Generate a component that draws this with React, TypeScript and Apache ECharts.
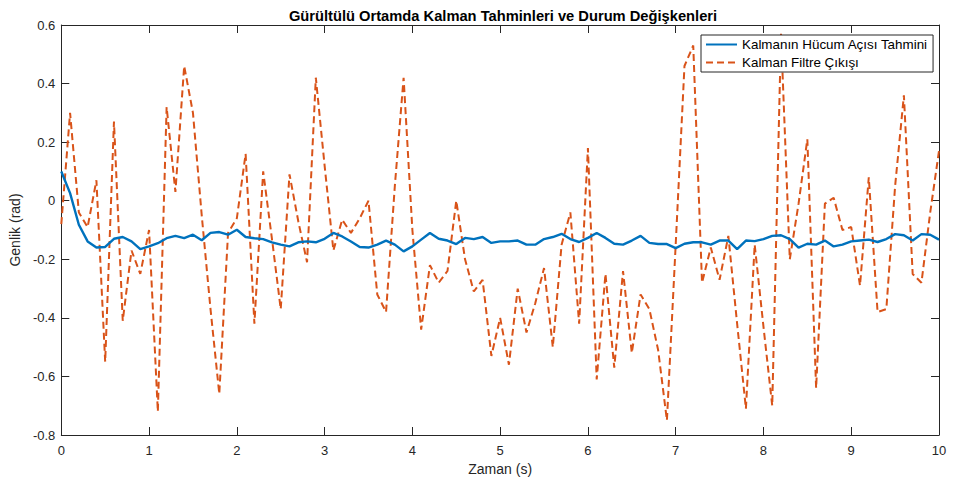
import React, { useEffect, useRef } from "react";
import * as echarts from "echarts";

// Sample step of the time axis (s)
const sampleStep = 0.1;

// Axis ranges and tick steps
const xRange = [0, 10];
const xStep = 1;
const yRange = [-0.8, 0.6];
const yStep = 0.2;

// Legend / series names
const seriesNames = ["Kalmanın Hücum Açısı Tahmini", "Kalman Filtre Çıkışı"];

// Kalman estimate of angle of attack (rad), t = 0 .. 10 s
const kalmanEstimate = [
  0.10, 0.026, -0.082, -0.139, -0.16, -0.158, -0.13, -0.124, -0.139, -0.165,
  -0.156, -0.145, -0.128, -0.12, -0.128, -0.116, -0.135, -0.11, -0.107, -0.116,
  -0.099, -0.124, -0.128, -0.131, -0.142, -0.15, -0.156, -0.142, -0.139, -0.142,
  -0.13, -0.11, -0.122, -0.139, -0.158, -0.16, -0.15, -0.136, -0.15, -0.173,
  -0.156, -0.133, -0.11, -0.13, -0.136, -0.148, -0.127, -0.131, -0.124, -0.144,
  -0.139, -0.139, -0.136, -0.15, -0.15, -0.131, -0.124, -0.113, -0.131, -0.141,
  -0.127, -0.11, -0.127, -0.147, -0.15, -0.136, -0.12, -0.144, -0.148, -0.148,
  -0.162, -0.147, -0.142, -0.142, -0.15, -0.136, -0.136, -0.165, -0.136, -0.138,
  -0.131, -0.12, -0.118, -0.131, -0.16, -0.147, -0.15, -0.136, -0.156, -0.15,
  -0.139, -0.136, -0.133, -0.141, -0.131, -0.114, -0.118, -0.136, -0.114, -0.116,
  -0.133,
];

// Kalman filter output (rad), t = 0 .. 10 s
const filterOutput = [
  -0.08, 0.30, -0.04, -0.09, 0.07, -0.55, 0.27, -0.41, -0.17, -0.25,
  -0.10, -0.72, 0.32, 0.03, 0.46, 0.30, -0.05, -0.37, -0.66, -0.11,
  -0.06, 0.16, -0.42, 0.10, -0.13, -0.37, 0.09, -0.07, -0.21, 0.42,
  0.12, -0.17, -0.065, -0.11, -0.06, 0.0, -0.32, -0.38, 0.05, 0.42,
  -0.10, -0.44, -0.22, -0.28, -0.24, 0.0, -0.20, -0.31, -0.27, -0.53,
  -0.40, -0.56, -0.30, -0.45, -0.35, -0.23, -0.50, -0.15, -0.04, -0.42,
  0.18, -0.61, -0.25, -0.57, -0.24, -0.52, -0.32, -0.37, -0.51, -0.75,
  -0.15, 0.46, 0.53, -0.28, -0.16, -0.27, -0.12, -0.42, -0.71, -0.15,
  -0.43, -0.70, 0.57, -0.20, -0.01, 0.21, -0.64, -0.01, 0.01, -0.10,
  -0.09, -0.29, 0.08, -0.38, -0.37, 0.05, 0.36, -0.25, -0.28, -0.04,
  0.17,
];

const toPairs = (vals: number[]) =>
  vals.map((v, i) => [Math.round(i * sampleStep * 10) / 10, v]);

const AXIS_COLOR = "#262626";
const FONT = "'Liberation Sans', Arial, Helvetica, sans-serif";

export default function App() {
  const ref = useRef<HTMLDivElement>(null);

  useEffect(() => {
    document.body.style.margin = "0";
    if (!ref.current) return;
    const chart = echarts.init(ref.current, undefined, { renderer: "svg" });

    const baseAxis = {
      axisLine: { show: true, onZero: false, lineStyle: { color: AXIS_COLOR, width: 1 } },
      axisTick: { show: true, inside: true, length: 8, lineStyle: { color: AXIS_COLOR, width: 1 } },
      splitLine: { show: false },
    };

    chart.setOption({
      animation: false,
      backgroundColor: "#ffffff",
      textStyle: { fontFamily: FONT },
      title: {
        text: "Gürültülü Ortamda Kalman Tahminleri ve Durum Değişkenleri",
        left: 498,
        top: 3,
        textAlign: "center",
        textStyle: { fontFamily: FONT, fontSize: 14.7, fontWeight: "bold", color: "#000" },
      },
      grid: { left: 58, right: 23, top: 25, bottom: 46, containLabel: false },
      legend: {
        orient: "vertical",
        left: 701,
        top: 35,
        padding: [3, 5, 3, 4],
        itemGap: 5,
        itemWidth: 31,
        itemHeight: 12,
        borderColor: AXIS_COLOR,
        borderWidth: 1,
        borderRadius: 0,
        backgroundColor: "#ffffff",
        itemStyle: { opacity: 0 },
        textStyle: { fontFamily: FONT, fontSize: 13.4, color: "#000" },
        data: seriesNames,
      },
      xAxis: [
        {
          ...baseAxis,
          type: "value",
          position: "bottom",
          min: xRange[0],
          max: xRange[1],
          interval: xStep,
          axisLabel: { color: AXIS_COLOR, fontFamily: FONT, fontSize: 13, margin: 9 },
          name: "Zaman (s)",
          nameLocation: "middle",
          nameGap: 26,
          nameTextStyle: { color: AXIS_COLOR, fontFamily: FONT, fontSize: 14 },
        },
        {
          ...baseAxis,
          type: "value",
          position: "top",
          min: xRange[0],
          max: xRange[1],
          interval: xStep,
          axisLabel: { show: false },
        },
      ],
      yAxis: [
        {
          ...baseAxis,
          type: "value",
          position: "left",
          min: yRange[0],
          max: yRange[1],
          interval: yStep,
          axisLabel: {
            color: AXIS_COLOR,
            fontFamily: FONT,
            fontSize: 13,
            margin: 6,
            formatter: (v: number) => String(Math.round(v * 10) / 10),
          },
          name: "Genlik (rad)",
          nameLocation: "middle",
          nameGap: 33,
          nameTextStyle: { color: AXIS_COLOR, fontFamily: FONT, fontSize: 14 },
        },
        {
          ...baseAxis,
          type: "value",
          position: "right",
          min: yRange[0],
          max: yRange[1],
          interval: yStep,
          axisLabel: { show: false },
        },
      ],
      series: [
        {
          name: seriesNames[0],
          type: "line",
          xAxisIndex: 0,
          yAxisIndex: 0,
          data: toPairs(kalmanEstimate),
          showSymbol: false,
          symbol: "none",
          z: 3,
          itemStyle: { color: "#0072BD" },
          lineStyle: { color: "#0072BD", width: 2.4 },
        },
        {
          name: seriesNames[1],
          type: "line",
          xAxisIndex: 0,
          yAxisIndex: 0,
          data: toPairs(filterOutput),
          showSymbol: false,
          symbol: "none",
          z: 2,
          itemStyle: { color: "#D95319" },
          lineStyle: { color: "#D95319", width: 2, type: [7, 4] },
        },
      ],
    });

    return () => chart.dispose();
  }, []);

  return (
    <div
      ref={ref}
      style={{ position: "fixed", left: 0, top: 0, width: 962, height: 481 }}
    />
  );
}
